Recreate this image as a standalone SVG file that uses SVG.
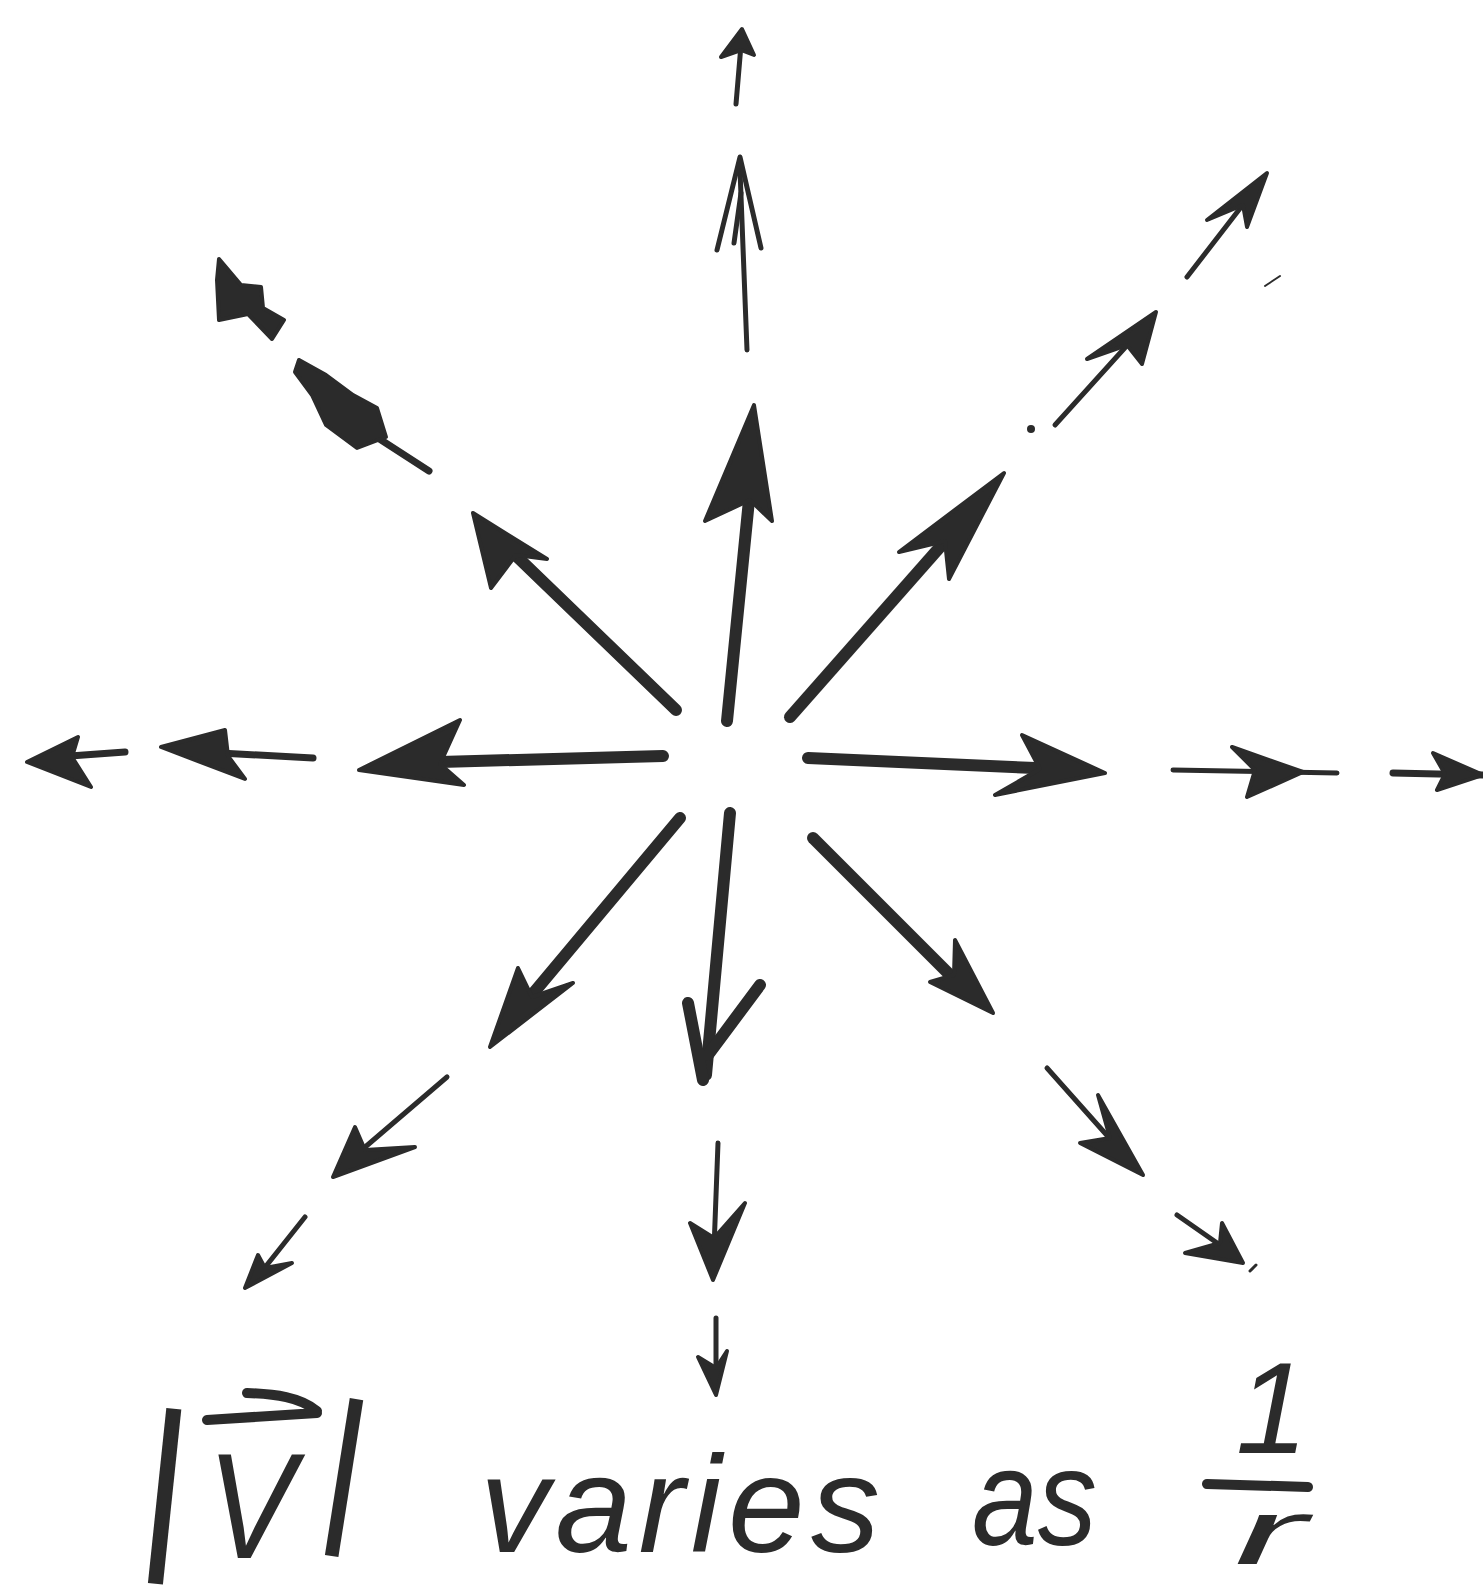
<svg xmlns="http://www.w3.org/2000/svg" width="1483" height="1587" viewBox="0 0 1483 1587">
<style>
.sh{stroke:#2b2b2b;stroke-linecap:round;stroke-linejoin:round;fill:none}
.t1{stroke-width:12}
.t2{stroke-width:7}
.t3{stroke-width:5}
.hd{fill:#2b2b2b;stroke:#2b2b2b;stroke-width:4;stroke-linejoin:round}
.tx{font-family:"Liberation Sans",Arial,sans-serif;font-style:italic;fill:#2b2b2b}
</style>
<rect width="1483" height="1587" fill="#ffffff"/>
<g id="connectors">
  <!-- North -->
  <g id="arrow-n1"><line class="sh t1" x1="727" y1="721" x2="751" y2="480"/><path class="hd" d="M754,405 L772,521 L750,500 L705,521 Z"/></g>
  <g id="arrow-n2"><line class="sh t3" x1="747" y1="350" x2="740" y2="170"/><path class="sh t3" d="M717,250 L740,157 L761,248 M734,243 L741,193"/></g>
  <g id="arrow-n3"><line class="sh t3" x1="736" y1="104" x2="741" y2="45"/><path class="hd" d="M742,29 L754,55 L741,50 L721,57 Z"/></g>
  <!-- North-east -->
  <g id="arrow-ne1"><line class="sh t1" x1="790" y1="717" x2="955" y2="530"/><path class="hd" d="M1004,473 L949,579 L945,541 L899,552 Z"/></g>
  <g id="arrow-ne2"><circle cx="1031" cy="429" r="4" fill="#2b2b2b"/><line class="sh t3" x1="1055" y1="425" x2="1150" y2="320"/><path class="hd" d="M1156,312 L1142,364 L1127,345 L1087,359 Z"/></g>
  <g id="arrow-ne3"><line class="sh t3" x1="1187" y1="277" x2="1262" y2="180"/><path class="hd" d="M1267,173 L1247,227 L1243,205 L1207,220 Z"/><line class="sh" stroke-width="2" x1="1265" y1="286" x2="1280" y2="276"/></g>
  <!-- North-west -->
  <g id="arrow-nw1"><line class="sh t1" x1="676" y1="710" x2="505" y2="545"/><path class="hd" d="M473,513 L547,559 L516,555 L491,588 Z"/></g>
  <g id="arrow-nw2"><line class="sh t2" x1="378" y1="438" x2="429" y2="471"/><path class="hd" d="M299,360 L326,375 L353,395 L377,408 L386,437 L357,448 L326,425 L312,395 L295,372 Z"/></g>
  <g id="arrow-nw3"><path class="hd" d="M219,259 L241,285 L261,287 L263,308 L284,320 L272,339 L248,314 L219,320 L217,280 Z"/></g>
  <!-- West -->
  <g id="arrow-w1"><line class="sh t1" x1="663" y1="756" x2="440" y2="762"/><path class="hd" d="M359,770 L460,720 L440,764 L464,785 Z"/></g>
  <g id="arrow-w2"><line class="sh t2" x1="220" y1="753" x2="313" y2="758"/><path class="hd" d="M161,747 L225,730 L228,756 L245,779 Z"/></g>
  <g id="arrow-w3"><line class="sh t2" x1="70" y1="756" x2="125" y2="752"/><path class="hd" d="M27,762 L78,737 L72,757 L91,787 Z"/></g>
  <!-- East -->
  <g id="arrow-e1"><line class="sh t1" x1="808" y1="758" x2="1035" y2="768"/><path class="hd" d="M1105,773 L1022,735 L1040,769 L995,795 Z"/></g>
  <g id="arrow-e2"><line class="sh t3" x1="1173" y1="770" x2="1337" y2="773"/><path class="hd" d="M1303,772 L1232,747 L1255,770 L1247,797 Z"/></g>
  <g id="arrow-e3"><line class="sh t2" x1="1393" y1="773" x2="1483" y2="775"/><path class="hd" d="M1483,775 L1433,753 L1445,774 L1437,790 Z"/></g>
  <!-- South-east -->
  <g id="arrow-se1"><line class="sh t1" x1="813" y1="838" x2="955" y2="980"/><path class="hd" d="M993,1013 L955,940 L954,975 L930,982 Z"/></g>
  <g id="arrow-se2"><line class="sh t3" x1="1047" y1="1068" x2="1120" y2="1150"/><path class="hd" d="M1143,1175 L1098,1095 L1110,1138 L1080,1143 Z"/></g>
  <g id="arrow-se3"><line class="sh t3" x1="1177" y1="1215" x2="1230" y2="1252"/><path class="hd" d="M1243,1263 L1222,1223 L1220,1243 L1185,1253 Z"/><line class="sh" stroke-width="3" x1="1250" y1="1271" x2="1256" y2="1265"/></g>
  <!-- South -->
  <g id="arrow-s1"><line class="sh t1" x1="730" y1="813" x2="706" y2="1075"/><path class="sh t1" d="M688,1003 L703,1080 M760,985 L708,1055"/></g>
  <g id="arrow-s2"><line class="sh t3" x1="718" y1="1143" x2="713" y2="1275"/><path class="hd" d="M713,1280 L690,1223 L714,1238 L745,1203 Z"/></g>
  <g id="arrow-s3"><line class="sh t3" x1="716" y1="1318" x2="716" y2="1390"/><path class="hd" d="M716,1395 L698,1357 L716,1368 L727,1351 Z"/></g>
  <!-- South-west -->
  <g id="arrow-sw1"><line class="sh t1" x1="680" y1="818" x2="515" y2="1015"/><path class="hd" d="M490,1047 L518,968 L532,997 L573,983 Z"/></g>
  <g id="arrow-sw2"><line class="sh t3" x1="447" y1="1077" x2="350" y2="1160"/><path class="hd" d="M333,1177 L355,1127 L365,1150 L415,1147 Z"/></g>
  <g id="arrow-sw3"><line class="sh t3" x1="305" y1="1217" x2="255" y2="1280"/><path class="hd" d="M245,1288 L258,1255 L265,1268 L292,1263 Z"/></g>
</g>
<g id="label">
  <text class="tx" x="138" y="1543" font-size="186" transform="rotate(6 163 1495)">|</text>
  <text class="tx" x="207" y="1558" font-size="150" textLength="88" lengthAdjust="spacingAndGlyphs">V</text>
  <path class="sh" stroke-width="10" d="M207,1420 L317,1413 M317,1411 C300,1397 275,1394 247,1393"/>
  <text class="tx" x="320" y="1520" font-size="168" transform="rotate(9 345 1476)">|</text>
  <text class="tx" x="480" y="1552" font-size="138" textLength="400" lengthAdjust="spacing">varies</text>
  <text class="tx" x="972" y="1545" font-size="138" textLength="125" lengthAdjust="spacingAndGlyphs">as</text>
  <text class="tx" x="1272" y="1453" font-size="130" text-anchor="middle">1</text>
  <line class="sh" stroke-width="10" x1="1207" y1="1484" x2="1308" y2="1487"/>
  <text class="tx" x="1234" y="1564" font-size="92" textLength="72" lengthAdjust="spacingAndGlyphs">r</text>
</g>
</svg>
